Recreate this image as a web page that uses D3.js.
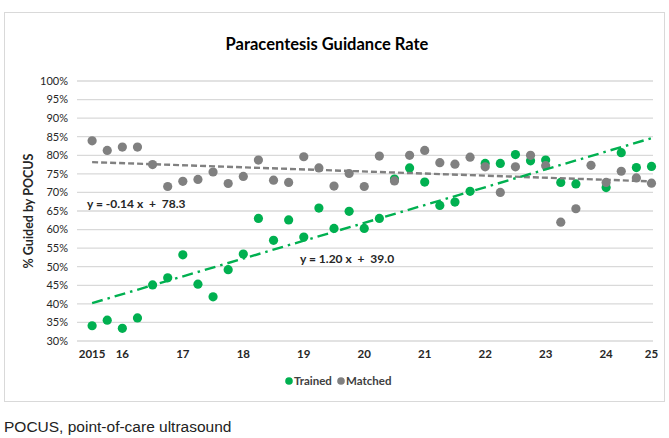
<!DOCTYPE html>
<html>
<meta charset="utf-8">
<title>Paracentesis Guidance Rate</title>
<script src="https://d3js.org/d3.v7.min.js"></script>
<style>
body { margin: 0; background: #fff; }
.grid line { stroke: #d9d9d9; stroke-width: 1.3; }
.ytick { font-family: Lato, "Open Sans", sans-serif; font-size: 11px; fill: #262626; }
.xtick { font-family: Lato, "Open Sans", sans-serif; font-size: 11.5px; font-weight: bold; fill: #262626; }
</style>
<body>
<svg width="669" height="438"></svg>
<script>
// quarter index 1..38
var trained = [34.1, 35.6, 33.4, 36.2, 45.1, 47.0, 53.2, 45.3, 41.9, 49.2,
  53.4, 63.0, 57.1, 62.6, 58.0, 65.8, 60.3, 64.9, 60.3, 63.0,
  73.6, 76.6, 72.8, 66.5, 67.4, 70.3, 77.8, 77.8, 80.2, 78.5,
  78.7, 72.7, 72.3, null, 71.3, 80.7, 76.7, 77.0];
var matched = [83.9, 81.3, 82.2, 82.2, 77.5, 71.6, 73.0, 73.5, 75.5, 72.4,
  74.3, 78.7, 73.3, 72.7, 79.6, 76.6, 71.7, 75.1, 71.6, 79.8,
  73.1, 80.0, 81.3, 78.0, 77.6, 79.5, 76.9, 70.0, 76.9, 80.0,
  77.2, 62.0, 65.6, 77.3, 72.7, 75.7, 73.9, 72.5];
var trainedFit = { slope: 1.20, intercept: 39.0 };
var matchedFit = { slope: -0.14, intercept: 78.3 };
var xTickIdx = [1, 3, 7, 11, 15, 19, 23, 27, 31, 35, 38];
var xTickLabels = ["2015", "16", "17", "18", "19", "20", "21", "22", "23", "24", "25"];
var yTicks = [30, 35, 40, 45, 50, 55, 60, 65, 70, 75, 80, 85, 90, 95, 100];

var green = "#00b050", grey = "#808080";
var svg = d3.select("svg");

svg.append("rect").attr("x", 4.5).attr("y", 12.5).attr("width", 660).attr("height", 389)
  .attr("fill", "#fff").attr("stroke", "#d9d9d9").attr("stroke-width", 1);

var x = d3.scaleLinear().domain([0, 38.1]).range([77, 653]),
    y = d3.scaleLinear().domain([30, 100]).range([341, 81]);

svg.append("text").attr("x", 327).attr("y", 50).attr("text-anchor", "middle")
  .style("font-family", "Lato, 'Open Sans', sans-serif").style("font-size", "16.5px")
  .style("font-weight", "bold").attr("fill", "#000").text("Paracentesis Guidance Rate");

var grid = svg.append("g").attr("class", "grid");
grid.selectAll("line").data(yTicks).enter().append("line")
  .attr("x1", x.range()[0]).attr("x2", x.range()[1])
  .attr("y1", function(d) { return y(d); }).attr("y2", function(d) { return y(d); });

svg.selectAll(".ytick").data(yTicks).enter().append("text")
  .attr("class", "ytick").attr("x", 68).attr("y", function(d) { return y(d); })
  .attr("dy", "0.35em").attr("text-anchor", "end").text(function(d) { return d + "%"; });

svg.selectAll(".xtick").data(xTickIdx).enter().append("text")
  .attr("class", "xtick").attr("x", function(d) { return x(d); }).attr("y", 358)
  .attr("text-anchor", "middle").text(function(d, i) { return xTickLabels[i]; });

svg.append("text").attr("transform", "translate(33,211) rotate(-90)")
  .attr("text-anchor", "middle").style("font-family", "Lato, 'Open Sans', sans-serif")
  .style("font-size", "12.5px").style("font-weight", "bold").attr("fill", "#262626")
  .text("% Guided by POCUS");

function dots(data, color) {
  svg.append("g").selectAll("circle")
    .data(data.map(function(v, i) { return { i: i + 1, v: v }; }).filter(function(d) { return d.v != null; }))
    .enter().append("circle")
    .attr("cx", function(d) { return x(d.i); }).attr("cy", function(d) { return y(d.v); })
    .attr("r", 4.6).attr("fill", color);
}
function trend(fit, color, dash) {
  var pts = [1, 38];
  svg.append("line")
    .attr("x1", x(pts[0])).attr("y1", y(fit.slope * pts[0] + fit.intercept))
    .attr("x2", x(pts[1])).attr("y2", y(fit.slope * pts[1] + fit.intercept))
    .attr("stroke", color).attr("stroke-width", 2.4).attr("stroke-dasharray", dash);
}

dots(trained, green);
dots(matched, grey);
trend(matchedFit, grey, "6,3");
trend(trainedFit, green, "11,5,2.5,5");

svg.append("text").attr("x", 87).attr("y", 208)
  .style("font-family", "Lato, 'Open Sans', sans-serif").style("font-size", "12px")
  .style("font-weight", "bold").attr("fill", "#262626").attr("xml:space", "preserve")
  .text("y = -0.14 x  +  78.3");
svg.append("text").attr("x", 300).attr("y", 263)
  .style("font-family", "Lato, 'Open Sans', sans-serif").style("font-size", "12px")
  .style("font-weight", "bold").attr("fill", "#262626").attr("xml:space", "preserve")
  .text("y = 1.20 x  +  39.0");

var legend = [{ name: "Trained", color: green, x: 289 }, { name: "Matched", color: grey, x: 341 }];
var lg = svg.selectAll(".lg").data(legend).enter().append("g")
  .attr("transform", function(d) { return "translate(" + d.x + ",381)"; });
lg.append("circle").attr("r", 3.8).attr("fill", function(d) { return d.color; });
lg.append("text").attr("x", 5).attr("dy", "0.35em")
  .style("font-family", "Lato, 'Open Sans', sans-serif").style("font-size", "11.5px")
  .style("font-weight", "bold").attr("fill", "#404040").text(function(d) { return d.name; });

svg.append("text").attr("x", 4).attr("y", 432)
  .style("font-family", "'Liberation Sans', Arial, sans-serif").style("font-size", "15.5px")
  .attr("fill", "#222").text("POCUS, point-of-care ultrasound");
</script>
</body>
</html>
